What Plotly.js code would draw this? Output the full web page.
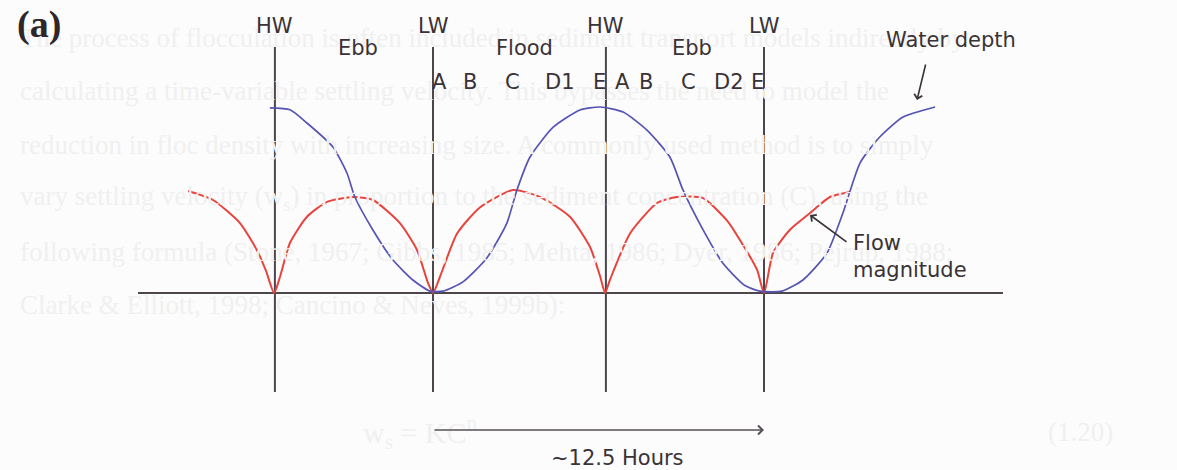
<!DOCTYPE html>
<html>
<head>
<meta charset="utf-8">
<script src="https://cdn.plot.ly/plotly-3.0.1.min.js"></script>
<style>html,body{margin:0;padding:0;background:#fcfcfc;}#chart{width:1177px;height:470px;}</style>
</head>
<body>
<div id="chart"></div>
<script>
// ---- data (time in hours, LW = 0; values normalised to peak water depth) ----
const tideEventLabels = ['HW', 'LW', 'HW', 'LW'];
const tideEventHours  = [-5.97, 0, 6.53, 12.5];

const phaseLabels = ['Ebb', 'Flood', 'Ebb'];
const phaseHours  = [-2.83, 3.47, 9.78];

const stageLabels = ['A', 'B', 'C', 'D1', 'E', 'A', 'B', 'C', 'D2', 'E'];
const stageHours  = [0.26, 1.40, 3.02, 4.80, 6.27, 7.14, 8.04, 9.63, 11.18, 12.24];

const depthHours  = [-6.16, -5.40, -4.76, -3.78, -3.25, -2.95, -2.27, -1.51, -0.76, -0.11, 0.38, 1.13, 2.04, 2.79, 3.17, 3.66, 4.53, 5.55, 6.31, 7.18, 8.08, 8.95, 9.44, 10.20, 10.95, 11.78, 12.35, 13.18, 13.97, 14.88, 15.48, 16.13, 16.88, 17.75, 18.96];
const depthValues = [0.995, 0.985, 0.914, 0.785, 0.645, 0.516, 0.339, 0.177, 0.07, 0.01, 0.01, 0.06, 0.19, 0.376, 0.554, 0.73, 0.89, 0.984, 1.0, 0.973, 0.876, 0.73, 0.554, 0.339, 0.16, 0.04, 0.01, 0.01, 0.07, 0.215, 0.43, 0.70, 0.84, 0.946, 1.0];

const flowHours  = [-9.25, -8.31, -7.29, -6.65, -6.31, -6.00, -5.78, -5.40, -4.76, -4.00, -3.02, -2.27, -1.25, -0.60, -0.19, 0, 0.26, 0.91, 1.77, 3.02, 4.04, 5.17, 5.93, 6.31, 6.50, 6.68, 7.44, 8.46, 9.21, 10.20, 11.10, 11.59, 12.24, 12.50, 12.84, 13.48, 14.24, 14.99, 15.75];
const flowValues = [0.548, 0.5, 0.376, 0.23, 0.12, 0.0, 0.086, 0.27, 0.41, 0.49, 0.516, 0.5, 0.376, 0.23, 0.054, 0.0, 0.086, 0.32, 0.46, 0.554, 0.516, 0.41, 0.247, 0.09, 0.0, 0.07, 0.32, 0.484, 0.516, 0.51, 0.39, 0.285, 0.124, 0.0, 0.215, 0.34, 0.43, 0.516, 0.543];

const tidalPeriodLabel = '~12.5 Hours';
const panelLabel = '(a)';

// faint show-through text of the scanned page
const bleedLines = [
  'The process of flocculation is often included in sediment transport models indirectly by',
  'calculating a time-variable settling velocity. This bypasses the need to model the',
  'reduction in floc density with increasing size. A commonly used method is to simply',
  'vary settling velocity (w<sub>s</sub>) in proportion to the sediment concentration (C), using the',
  'following formula (Stone, 1967; Gibbs, 1985; Mehta, 1986; Dyer, 1986; Pejrup, 1988;',
  'Clarke &amp; Elliott, 1998; Cancino &amp; Neves, 1999b):'
];
const bleedEquation = 'w<sub>s</sub> = KC<sup>n</sup>';
const bleedEqNumber = '(1.20)';

// ---- geometry helpers (pixel <-> data) ----
const W = 1177, H = 470;
const x0px = 433, pxPerHour = 26.48;
const y0px = 293, pxPerUnit = 186;
const hx = px => (px - x0px) / pxPerHour;
const vy = py => (y0px - py) / pxPerUnit;

const ink = '#3a3236';
const lineInk = '#4d474b';
const font = {family: 'DejaVu Sans, Arial, sans-serif', size: 21, color: ink};
const bleedInk = '#f0f0f0';

const traces = [];
// vertical tide event lines
tideEventHours.forEach(t => {
  traces.push({x: [t, t], y: [vy(392), vy(47)], mode: 'lines', line: {color: lineInk, width: 2}, hoverinfo: 'skip', showlegend: false});
});
// baseline
traces.push({x: [hx(138), hx(1003)], y: [0, 0], mode: 'lines', line: {color: lineInk, width: 2}, hoverinfo: 'skip', showlegend: false});
// flow magnitude
traces.push({x: flowHours, y: flowValues, mode: 'lines', line: {color: '#e8433c', width: 2, shape: 'spline', smoothing: 0.6}, name: 'Flow magnitude', showlegend: false});
// water depth
traces.push({x: depthHours, y: depthValues, mode: 'lines', line: {color: '#5654b4', width: 1.7, shape: 'spline', smoothing: 0.6}, name: 'Water depth', showlegend: false});

const ann = [];
// show-through text
const bleedRows = [38, 91, 145, 198, 252, 305];
bleedLines.forEach((s, i) => {
  ann.push({x: hx(18), y: vy(bleedRows[i]), xref: 'x', yref: 'y', text: s, showarrow: false, xanchor: 'left', yanchor: 'middle',
    font: {family: 'Liberation Serif, Times New Roman, serif', size: 27, color: bleedInk}});
});
ann.push({x: hx(420), y: vy(432), xref: 'x', yref: 'y', text: bleedEquation, showarrow: false, font: {family: 'Liberation Serif, serif', size: 30, color: bleedInk}});
ann.push({x: hx(1080), y: vy(432), xref: 'x', yref: 'y', text: bleedEqNumber, showarrow: false, font: {family: 'Liberation Serif, serif', size: 27, color: bleedInk}});

tideEventLabels.forEach((s, i) => ann.push({x: tideEventHours[i], y: vy(26), xref: 'x', yref: 'y', text: s, showarrow: false, font: font}));
phaseLabels.forEach((s, i) => ann.push({x: phaseHours[i], y: vy(48), xref: 'x', yref: 'y', text: s, showarrow: false, font: font}));
stageLabels.forEach((s, i) => ann.push({x: stageHours[i], y: vy(82), xref: 'x', yref: 'y', text: s, showarrow: false, font: font}));

// Water depth label + arrow
ann.push({x: hx(951), y: vy(40), xref: 'x', yref: 'y', text: 'Water depth', showarrow: false, font: font});
ann.push({x: hx(917), y: vy(100), xref: 'x', yref: 'y', text: '', showarrow: true, ax: 9, ay: -37, arrowhead: 4, arrowsize: 1, arrowwidth: 1.6, arrowcolor: ink});
// Flow magnitude label + arrow
ann.push({x: hx(851), y: vy(256), xref: 'x', yref: 'y', text: 'Flow<br>magnitude', showarrow: false, xanchor: 'left', align: 'left', font: font});
ann.push({x: hx(810), y: vy(215), xref: 'x', yref: 'y', text: '', showarrow: true, ax: 38, ay: 28, arrowhead: 4, arrowsize: 1, arrowwidth: 1.6, arrowcolor: ink});
// tidal period arrow
ann.push({x: tideEventHours[3], y: vy(430), xref: 'x', yref: 'y', ax: tideEventHours[1], ay: vy(430), axref: 'x', ayref: 'y', text: '', showarrow: true, arrowhead: 4, arrowsize: 1.1, arrowwidth: 1.6, arrowcolor: '#555055'});
ann.push({x: hx(617), y: vy(458), xref: 'x', yref: 'y', text: tidalPeriodLabel, showarrow: false, font: font});
// panel label
ann.push({x: hx(39), y: vy(1), xref: 'x', yref: 'y', yanchor: 'top', text: '<b>' + panelLabel + '</b>', showarrow: false, font: {family: 'Liberation Serif, Times New Roman, serif', size: 38, color: '#2e2629'}});

const layout = {
  width: W, height: H,
  margin: {l: 0, r: 0, t: 0, b: 0},
  paper_bgcolor: '#fcfcfc', plot_bgcolor: '#fcfcfc',
  xaxis: {range: [hx(0), hx(W)], visible: false, fixedrange: true},
  yaxis: {range: [vy(H), vy(0)], visible: false, fixedrange: true},
  showlegend: false,
  annotations: ann
};
Plotly.newPlot('chart', traces, layout, {displayModeBar: false, staticPlot: true});
</script>
</body>
</html>
